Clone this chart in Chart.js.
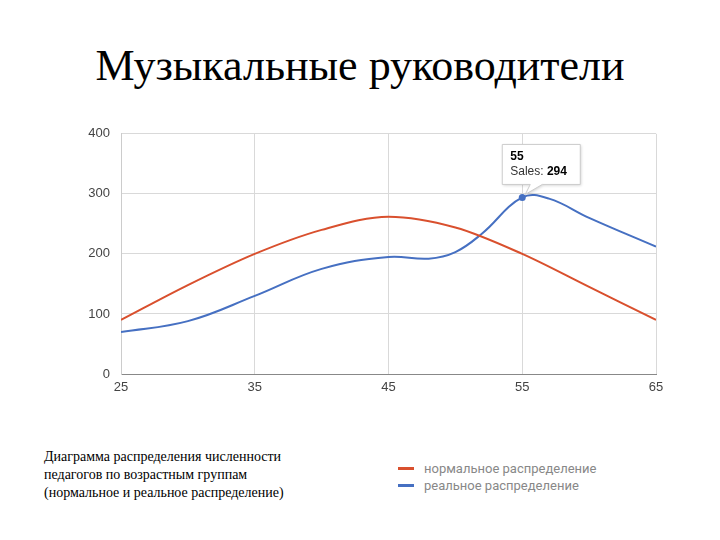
<!DOCTYPE html>
<html>
<head>
<meta charset="utf-8">
<script src="https://cdn.jsdelivr.net/npm/chart.js@4.4.1/dist/chart.umd.min.js"></script>
<style>
  body { margin: 0; width: 720px; height: 540px; background: #fff; position: relative; overflow: hidden; }
  h1 { position: absolute; left: 0; width: 720px; top: 40px; margin: 0; text-align: center;
       font: 44px "Liberation Serif", "Times New Roman", serif; color: #000; font-weight: normal; }
  #wrap { position: absolute; left: 60px; top: 115px; width: 620px; height: 289px; }
  #caption { position: absolute; left: 44px; top: 448px; font: 14px/18px "Liberation Serif", serif; color: #000; }
  #legend { position: absolute; left: 398px; top: 460px; font: 13px/17px Roboto, Arial, sans-serif; color: #888; }
  #legend div { display: flex; align-items: center; }
  #legend span.sw { display: inline-block; width: 16px; height: 3px; margin-right: 10px; }
</style>
</head>
<body>
<h1>Музыкальные руководители</h1>
<div id="wrap"><canvas id="chart"></canvas></div>
<div id="caption">Диаграмма распределения численности<br>педагогов по возрастным группам<br>(нормальное и реальное распределение)</div>
<div id="legend"></div>
<script>
// values (age -> count)
const normalAges = [25, 30, 35, 40, 45, 50, 55, 60, 65];
const normalValues = [90, 148, 200, 240, 262, 244, 200, 145, 90];

const realAges = [25, 30, 35, 40, 45, 48, 50, 52, 55, 57, 60, 65];
const realValues = [70, 88, 130, 175, 195, 192, 203, 234, 294, 292, 260, 212];

const xTicks = [25, 35, 45, 55, 65];
const yTicks = [0, 100, 200, 300, 400];

const seriesNames = ['нормальное распределение', 'реальное распределение'];
const seriesColors = ['#d9502e', '#4670c2'];

// highlighted point and its callout
const hoverIndex = 8;
const hoverLabel = 'Sales';

function toPoints(xs, ys) {
  return xs.map((x, i) => ({ x: x, y: ys[i] }));
}

const calloutPlugin = {
  id: 'callout',
  afterDatasetsDraw(chart) {
    const ctx = chart.ctx;
    const pt = chart.getDatasetMeta(1).data[hoverIndex];
    const px = pt.x, py = pt.y;
    const bx = px - 20, by = py - 53, bw = 78, bh = 40;
    ctx.save();
    ctx.shadowColor = 'rgba(0,0,0,0.18)';
    ctx.shadowBlur = 3;
    ctx.shadowOffsetX = 1;
    ctx.shadowOffsetY = 1;
    ctx.fillStyle = '#fff';
    ctx.strokeStyle = '#cccccc';
    ctx.lineWidth = 1;
    ctx.beginPath();
    ctx.moveTo(bx, by);
    ctx.lineTo(bx + bw, by);
    ctx.lineTo(bx + bw, by + bh);
    ctx.lineTo(bx + 40, by + bh);
    ctx.lineTo(px + 3, py - 3);
    ctx.lineTo(bx + 28, by + bh);
    ctx.lineTo(bx, by + bh);
    ctx.closePath();
    ctx.fill();
    ctx.shadowColor = 'transparent';
    ctx.stroke();
    ctx.fillStyle = '#000';
    ctx.textBaseline = 'alphabetic';
    ctx.font = 'bold 12px Arial, "Liberation Sans", sans-serif';
    ctx.fillText(String(realAges[hoverIndex]), bx + 8, by + 16);
    ctx.font = '12px Arial, "Liberation Sans", sans-serif';
    ctx.fillStyle = '#333';
    const lbl = hoverLabel + ': ';
    ctx.fillText(lbl, bx + 8, by + 31);
    const w = ctx.measureText(lbl).width;
    ctx.font = 'bold 12px Arial, "Liberation Sans", sans-serif';
    ctx.fillStyle = '#000';
    ctx.fillText(String(realValues[hoverIndex]), bx + 8 + w, by + 31);
    ctx.restore();
  }
};

const radii = realValues.map((v, i) => (i === hoverIndex ? 3.5 : 0));

new Chart(document.getElementById('chart'), {
  type: 'line',
  data: {
    datasets: [
      {
        label: seriesNames[0],
        data: toPoints(normalAges, normalValues),
        borderColor: seriesColors[0],
        borderWidth: 2,
        pointRadius: 0,
        cubicInterpolationMode: 'monotone',
        fill: false
      },
      {
        label: seriesNames[1],
        data: toPoints(realAges, realValues),
        borderColor: seriesColors[1],
        backgroundColor: seriesColors[1],
        borderWidth: 2,
        pointRadius: radii,
        pointBorderWidth: 0,
        tension: 0.4,
        fill: false
      }
    ]
  },
  options: {
    responsive: true,
    maintainAspectRatio: false,
    animation: false,
    layout: { padding: { top: 7, right: 24, left: 0, bottom: 0 } },
    plugins: {
      legend: { display: false },
      tooltip: { enabled: false }
    },
    scales: {
      x: {
        type: 'linear',
        min: 25,
        max: 65,
        afterBuildTicks: s => { s.ticks = xTicks.map(v => ({ value: v })); },
        afterFit: s => { s.height = 30; },
        grid: { color: '#d9d9d9', drawTicks: false },
        border: { color: '#888', width: 1 },
        ticks: { color: '#444', padding: 6, font: { size: 13, family: 'Arial, "Liberation Sans", sans-serif' } }
      },
      y: {
        min: 0,
        max: 400,
        afterBuildTicks: s => { s.ticks = yTicks.map(v => ({ value: v })); },
        afterFit: s => { s.width = 61; },
        grid: { color: '#d9d9d9', drawTicks: false },
        border: { color: '#ccc' },
        ticks: { color: '#444', padding: 11, font: { size: 13, family: 'Arial, "Liberation Sans", sans-serif' } }
      }
    }
  },
  plugins: [calloutPlugin]
});

// legend built from the same names/colours
const legend = document.getElementById('legend');
seriesNames.forEach((name, i) => {
  const row = document.createElement('div');
  row.innerHTML = '<span class="sw" style="background:' + seriesColors[i] + '"></span>' + name;
  legend.appendChild(row);
});
</script>
</body>
</html>
